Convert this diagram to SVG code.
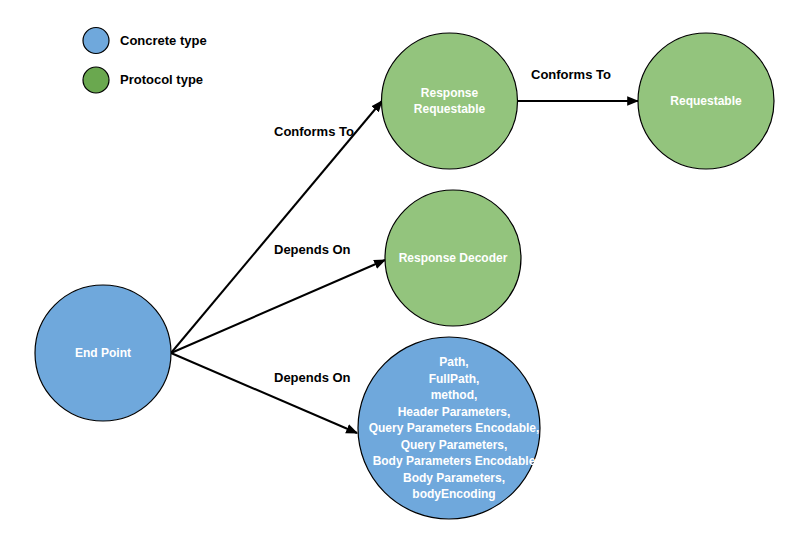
<svg xmlns="http://www.w3.org/2000/svg" width="791" height="559" viewBox="0 0 791 559">
<style>
.n{stroke:#000;stroke-width:1.2}
.blue{fill:#6fa8dc}
.green{fill:#93c47d}
.lg{fill:#6aa84f}
.t{font-family:"Liberation Sans",Arial,sans-serif;font-weight:bold;font-size:12px;fill:#fff;text-anchor:middle}
.l{font-family:"Liberation Sans",Arial,sans-serif;font-weight:bold;font-size:13px;fill:#000}
.c{stroke:#000;stroke-width:2;fill:none;marker-end:url(#a)}
</style>
<defs>
<marker id="a" viewBox="0 0 10 10" refX="9" refY="5" markerWidth="6" markerHeight="6" orient="auto" markerUnits="strokeWidth">
<path d="M0,1 L10,5 L0,9 z" fill="#000"/>
</marker>
</defs>
<rect width="791" height="559" fill="#fff"/>
<g id="legend">
<circle class="n blue" cx="96" cy="40.5" r="13"/>
<text class="l" x="120" y="44.5">Concrete type</text>
<circle class="n lg" cx="96" cy="80" r="13"/>
<text class="l" x="120" y="84">Protocol type</text>
</g>
<g id="connectors">
<line class="c" x1="171" y1="353" x2="382" y2="101"/>
<line class="c" x1="171" y1="353" x2="385" y2="260"/>
<line class="c" x1="171" y1="353" x2="357" y2="433"/>
<line class="c" x1="517" y1="101" x2="638" y2="101"/>
<text class="l" x="274" y="136">Conforms To</text>
<text class="l" x="274" y="254">Depends On</text>
<text class="l" x="274" y="382">Depends On</text>
<text class="l" x="531" y="79">Conforms To</text>
</g>
<g id="endpoint">
<circle class="n blue" cx="103" cy="353" r="68"/>
<text class="t" x="103" y="357">End Point</text>
</g>
<g id="responseRequestable">
<circle class="n green" cx="449.5" cy="101" r="68"/>
<text class="t" x="449.5" y="97">Response</text>
<text class="t" x="449.5" y="113">Requestable</text>
</g>
<g id="requestable">
<circle class="n green" cx="706" cy="101" r="68"/>
<text class="t" x="706" y="105">Requestable</text>
</g>
<g id="responseDecoder">
<circle class="n green" cx="453" cy="258" r="68"/>
<text class="t" x="453" y="262">Response Decoder</text>
</g>
<g id="params">
<circle class="n blue" cx="449" cy="428" r="91"/>
<text class="t" x="454" y="366">Path,</text>
<text class="t" x="454" y="382.5">FullPath,</text>
<text class="t" x="454" y="399">method,</text>
<text class="t" x="454" y="415.5">Header Parameters,</text>
<text class="t" x="454" y="432">Query Parameters Encodable,</text>
<text class="t" x="454" y="448.5">Query Parameters,</text>
<text class="t" x="454" y="465">Body Parameters Encodable</text>
<text class="t" x="454" y="481.5">Body Parameters,</text>
<text class="t" x="454" y="498">bodyEncoding</text>
</g>
</svg>
